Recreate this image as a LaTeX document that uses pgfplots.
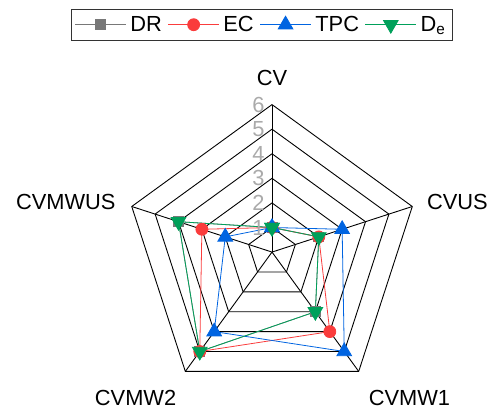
\documentclass[border=0pt]{standalone}
\usepackage{fontspec}
\setmainfont{Liberation Sans}
\usepackage{pgfplots}
\pgfplotsset{compat=1.18}
\definecolor{drc}{RGB}{120,120,120}
\definecolor{ecc}{RGB}{250,60,60}
\definecolor{tpcc}{RGB}{0,100,225}
\definecolor{dec}{RGB}{0,160,90}
\definecolor{tickg}{RGB}{170,170,170}
\begin{document}
\begin{tikzpicture}[font=\fontsize{22}{26}\selectfont]
\begin{axis}[
  x=24.67bp, y=24.67bp,
  xmin=-11.066, xmax=8.837, ymin=-6.324, ymax=10.255,
  hide axis, clip=false, scale only axis,
  legend columns=4,
  legend style={at={(0.5356,0.978)}, anchor=north, draw=black!80, line width=0.8bp,
    font=\fontsize{22}{26}\selectfont, inner xsep=3bp, inner ysep=1.5bp,
    nodes={inner xsep=4bp, inner ysep=5.5bp},
    /tikz/every even column/.append style={column sep=2bp}},
  legend image code/.code={\draw[mark repeat=2,mark phase=2] plot coordinates {(0bp,0bp)(25.5bp,0bp)(51bp,0bp)};},
]
\path (rel axis cs:0,0) rectangle (rel axis cs:1,1);
% grid rings
\addplot[black, line width=0.9bp, line join=round, data cs=polar, forget plot] coordinates {(90,1)(18,1)(-54,1)(-126,1)(162,1)(90,1)};
\addplot[black, line width=0.9bp, line join=round, data cs=polar, forget plot] coordinates {(90,2)(18,2)(-54,2)(-126,2)(162,2)(90,2)};
\addplot[black, line width=0.9bp, line join=round, data cs=polar, forget plot] coordinates {(90,3)(18,3)(-54,3)(-126,3)(162,3)(90,3)};
\addplot[black, line width=0.9bp, line join=round, data cs=polar, forget plot] coordinates {(90,4)(18,4)(-54,4)(-126,4)(162,4)(90,4)};
\addplot[black, line width=0.9bp, line join=round, data cs=polar, forget plot] coordinates {(90,5)(18,5)(-54,5)(-126,5)(162,5)(90,5)};
\addplot[black, line width=0.9bp, line join=round, data cs=polar, forget plot] coordinates {(90,6)(18,6)(-54,6)(-126,6)(162,6)(90,6)};
% spokes
\addplot[black, line width=0.9bp, data cs=polar, forget plot] coordinates {(90,0)(90,6)};
\addplot[black, line width=0.9bp, data cs=polar, forget plot] coordinates {(18,0)(18,6)};
\addplot[black, line width=0.9bp, data cs=polar, forget plot] coordinates {(-54,0)(-54,6)};
\addplot[black, line width=0.9bp, data cs=polar, forget plot] coordinates {(-126,0)(-126,6)};
\addplot[black, line width=0.9bp, data cs=polar, forget plot] coordinates {(162,0)(162,6)};
% data
\addplot[drc, line width=0.8bp, mark=square*, mark size=5bp, data cs=polar] coordinates {(90,1)(18,2)(-54,3)(-126,5)(162,4)(90,1)};
\addlegendentry{DR}
\addplot[ecc, line width=0.8bp, mark=*, mark size=6bp, data cs=polar] coordinates {(90,1)(18,2)(-54,4)(-126,5)(162,3)(90,1)};
\addlegendentry{EC}
\addplot[tpcc, line width=0.8bp, mark=triangle*, mark size=8.5bp, data cs=polar] coordinates {(90,1)(18,3)(-54,5)(-126,4)(162,2)(90,1)};
\addlegendentry{TPC}
\addplot[dec, line width=0.8bp, mark=triangle*, mark size=8.5bp, mark options={rotate=180}, data cs=polar] coordinates {(90,1)(18,2)(-54,3)(-126,5)(162,4)(90,1)};
\addlegendentry{D\textsubscript{e}}
% radial tick labels
\node[text=tickg, anchor=east, inner sep=0pt] at (axis cs:-0.3,1) {1};
\node[text=tickg, anchor=east, inner sep=0pt] at (axis cs:-0.3,2) {2};
\node[text=tickg, anchor=east, inner sep=0pt] at (axis cs:-0.3,3) {3};
\node[text=tickg, anchor=east, inner sep=0pt] at (axis cs:-0.3,4) {4};
\node[text=tickg, anchor=east, inner sep=0pt] at (axis cs:-0.3,5) {5};
\node[text=tickg, anchor=east, inner sep=0pt] at (axis cs:-0.3,6) {6};
% axis labels
\node at (axis cs:0,7.08) {CV};
\node at (axis cs:7.54,2.03) {CVUS};
\node at (axis cs:5.59,-5.92) {CVMW1};
\node at (axis cs:-5.55,-5.92) {CVMW2};
\node at (axis cs:-8.39,2.03) {CVMWUS};
\end{axis}
\end{tikzpicture}
\end{document}
